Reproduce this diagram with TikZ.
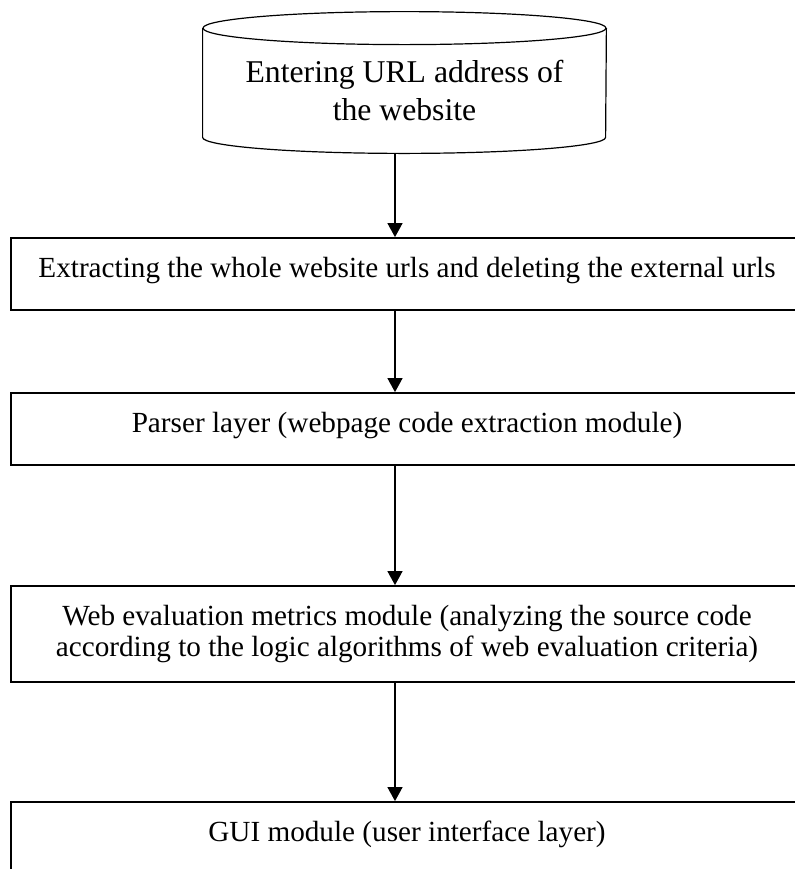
\documentclass[tikz,border=0pt]{standalone}
\usepackage{fontspec}
\setmainfont{Liberation Serif}
\usepackage{tikz}
\usetikzlibrary{calc,arrows.meta}

\begin{document}
\begin{tikzpicture}[
  x=0.5pt, y=-0.5pt,
  >={Triangle[length=7pt,width=7.5pt]},
  every node/.style={font=\fontsize{14.6}{17}\selectfont},
  frame/.style={line width=0.6pt},
  modbox/.style={draw, line width=0.9pt, minimum width=396pt, minimum height=36pt,
    inner ysep=4pt, text height=15.8pt, text depth=12.2pt},
  flow/.style={->, line width=0.65pt},
]
% Page frame (boxes run off the right and bottom edges)
\useasboundingbox (0,0) rectangle (795,869);
\clip (0,0) rectangle (795,869);

% Input: URL entry (cylinder drawn round the text node)
\node[minimum width=201.5pt, minimum height=62.25pt, inner sep=0pt, align=center,
  font=\fontsize{15.85}{19}\selectfont] (url) at (404.5,90.75)
  {Entering URL address of\\the website};
\draw[frame] (url.north west) -- ([yshift=8pt]url.south west)
  arc[start angle=180, end angle=360, x radius=100.75pt, y radius=8pt]
  -- (url.north east);
\draw[frame] (url.north) ellipse[x radius=100.75pt, y radius=8.25pt];

% Processing stages
\node[modbox] (extract) at (407,274)
  {Extracting the whole website urls and deleting the external urls};
\node[modbox] (parser) at (407,429)
  {Parser layer (webpage code extraction module)};
\node[draw, line width=0.9pt, minimum width=396pt, minimum height=48pt, align=center,
  font=\fontsize{14.6}{15.5}\selectfont] (metrics) at (407,634)
  {Web evaluation metrics module (analyzing the source code\\according to the logic algorithms of web evaluation criteria)};
\node[modbox] (gui) at (407,838)
  {GUI module (user interface layer)};

% Connectors
\coordinate (spine) at (395,0);
\draw[flow] (url.south -| spine) -- (extract.north -| spine);
\draw[flow] (extract.south -| spine) -- (parser.north -| spine);
\draw[flow] (parser.south -| spine) -- (metrics.north -| spine);
\draw[flow] (metrics.south -| spine) -- (gui.north -| spine);
\end{tikzpicture}
\end{document}
